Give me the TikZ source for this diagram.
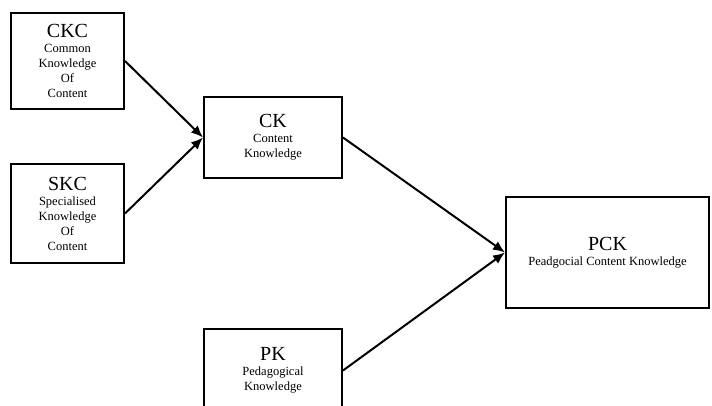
\documentclass[tikz,border=0pt]{standalone}
\usepackage{fontspec}
\setmainfont{Liberation Serif}
\usetikzlibrary{arrows.meta}
\newcommand{\boxtitle}[1]{{\fontsize{20}{20}\selectfont #1}}
\begin{document}
\begin{tikzpicture}[x=1pt,y=-1pt,
  box/.style={draw, line width=2pt, rectangle, align=center, inner sep=0pt,
    font=\fontsize{12.5}{15}\selectfont},
  conn/.style={line width=2pt, -{Latex[length=12pt,width=10pt]}},
]
\clip (0,0) rectangle (712,406);
\node[box, minimum width=113pt, minimum height=96pt] (ckc) at (67.5,61)
  {\boxtitle{CKC}\\Common\\Knowledge\\Of\\Content};
\node[box, minimum width=113pt, minimum height=99pt] (skc) at (67.5,213.5)
  {\boxtitle{SKC}\\Specialised\\Knowledge\\Of\\Content};
\node[box, minimum width=138pt, minimum height=81pt] (ck) at (273,137.5)
  {\boxtitle{CK}\\Content\\Knowledge};
\node[box, minimum width=138pt, minimum height=83pt] (pk) at (273,370.5)
  {\boxtitle{PK}\\Pedagogical\\Knowledge};
\node[box, minimum width=203pt, minimum height=111pt] (pck) at (607.5,252.5)
  {\boxtitle{PCK}\\Peadgocial Content Knowledge};
\draw[conn] (ckc.east) -- (ck.west);
\draw[conn] (skc.east) -- (ck.west);
\draw[conn] (ck.east) -- (pck.west);
\draw[conn] (pk.east) -- (pck.west);
\end{tikzpicture}
\end{document}
